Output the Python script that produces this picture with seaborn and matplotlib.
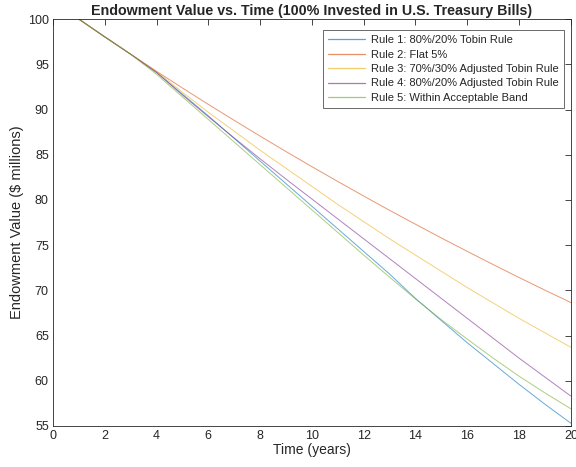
import matplotlib
matplotlib.use("Agg")
import matplotlib.pyplot as plt
from matplotlib.lines import Line2D
import seaborn as sns
import pandas as pd

years = list(range(1, 21))
rule1 = [100.0, 98.04, 96.12, 94.10, 91.70, 89.30, 86.80, 84.30, 81.80, 79.30,
         76.80, 74.30, 71.80, 69.10, 66.65, 64.20, 61.90, 59.60, 57.40, 55.30]
rule2 = [100.0, 98.04, 96.12, 94.23, 92.38, 90.57, 88.80, 87.06, 85.35, 83.68,
         82.04, 80.43, 78.85, 77.31, 75.79, 74.31, 72.85, 71.42, 70.02, 68.65]
rule3 = [100.0, 98.04, 96.12, 94.20, 91.90, 89.70, 87.60, 85.50, 83.50, 81.50,
         79.50, 77.60, 75.70, 73.90, 72.10, 70.30, 68.60, 66.90, 65.30, 63.70]
rule4 = [100.0, 98.04, 96.12, 94.10, 91.60, 89.20, 86.85, 84.55, 82.30, 80.10,
         77.90, 75.70, 73.50, 71.30, 69.10, 66.90, 64.70, 62.50, 60.40, 58.30]
rule5 = [100.0, 98.04, 96.12, 93.90, 91.40, 88.90, 86.40, 83.90, 81.40, 78.90,
         76.40, 73.90, 71.45, 69.05, 66.75, 64.60, 62.50, 60.50, 58.65, 56.90]
labels = ["Rule 1: 80%/20% Tobin Rule", "Rule 2: Flat 5%",
          "Rule 3: 70%/30% Adjusted Tobin Rule", "Rule 4: 80%/20% Adjusted Tobin Rule",
          "Rule 5: Within Acceptable Band"]
colors = ["#0072BD", "#D95319", "#EDB120", "#7E2F8E", "#77AC30"]
x_ticks = list(range(0, 21, 2))
y_ticks = list(range(55, 101, 5))

series = [rule1, rule2, rule3, rule4, rule5]
df = pd.DataFrame({
    "Year": years * 5,
    "Value": sum(series, []),
    "Rule": sum([[l] * len(years) for l in labels], []),
})

sns.set_style("white")
plt.rcParams["font.family"] = ["Liberation Sans", "DejaVu Sans"]

fig = plt.figure(figsize=(5.76, 4.67), dpi=100)
ax = fig.add_axes([0.092, 0.088, 0.899, 0.871])
sns.lineplot(data=df, x="Year", y="Value", hue="Rule", hue_order=labels,
             palette=colors, linewidth=0.7, alpha=0.6, ax=ax, legend=False)

ax.set_xlim(0, 20)
ax.set_ylim(55, 100)
ax.set_xticks(x_ticks)
ax.set_yticks(y_ticks)
ax.tick_params(direction="in", top=True, right=True, length=4, width=0.6,
               labelsize=9, colors="#262626", pad=3)
for s in ax.spines.values():
    s.set_color("#262626")
    s.set_linewidth(0.6)
ax.set_xlabel("Time (years)", fontsize=10, color="#262626", labelpad=1)
ax.set_ylabel("Endowment Value ($ millions)", fontsize=10.5, color="#262626", labelpad=3)
ax.set_title("Endowment Value vs. Time (100% Invested in U.S. Treasury Bills)",
             fontsize=10.3, fontweight="bold", pad=3)

handles = [Line2D([], [], color=c, linewidth=0.9, alpha=0.65) for c in colors]
leg = ax.legend(handles, labels, loc="upper right", fontsize=8, handlelength=3.3,
                frameon=True, fancybox=False, edgecolor="#262626", borderpad=0.45,
                labelspacing=0.4, handletextpad=0.55, borderaxespad=0,
                bbox_to_anchor=(0.986, 0.973))
leg.get_frame().set_linewidth(0.6)

fig.savefig("out.png", dpi=100)
